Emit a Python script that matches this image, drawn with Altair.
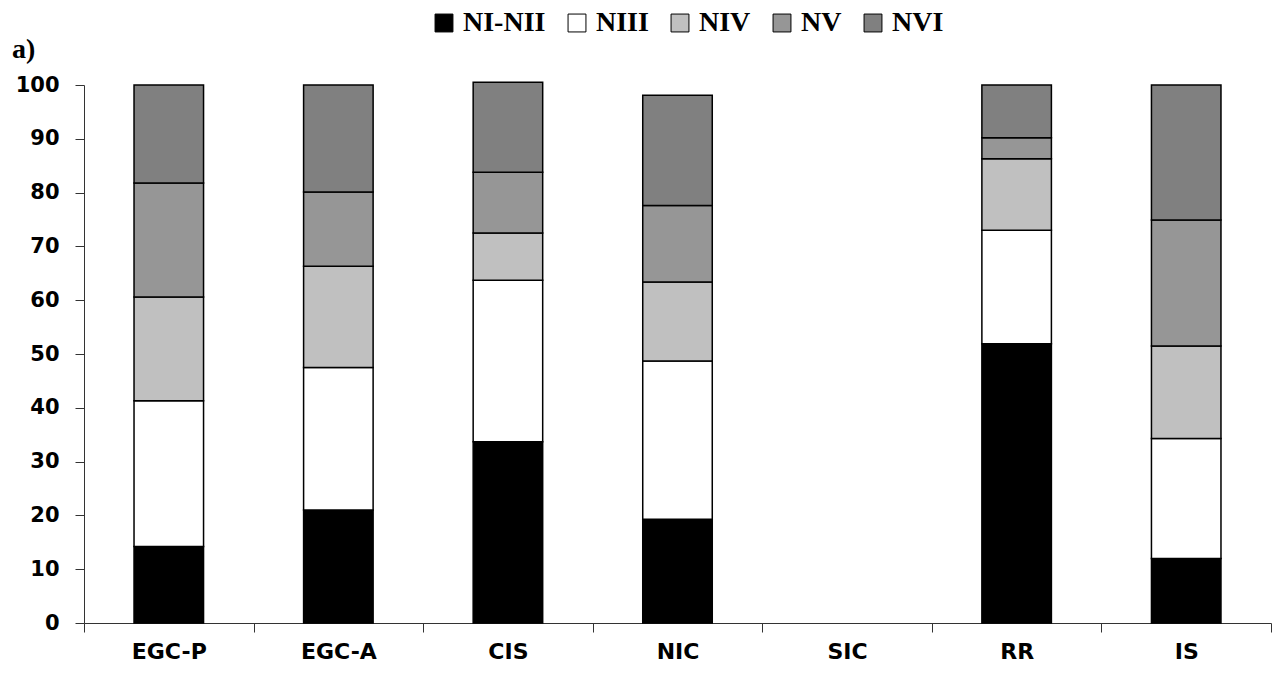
import altair as alt
import pandas as pd

categories = ["EGC-P", "EGC-A", "CIS", "NIC", "SIC", "RR", "IS"]
series = ["NI-NII", "NIII", "NIV", "NV", "NVI"]
colors = ["#000000", "#ffffff", "#c0c0c0", "#969696", "#808080"]

# segment values per category (SIC has no data)
ni_nii = [14.2, 21.0, 33.7, 19.3, None, 51.9, 12.0]
niii   = [27.1, 26.5, 30.0, 29.4, None, 21.1, 22.3]
niv    = [19.3, 18.8,  8.8, 14.7, None, 13.3, 17.2]
nv     = [21.2, 13.8, 11.3, 14.2, None,  3.9, 23.4]
nvi    = [18.2, 19.9, 16.7, 20.5, None,  9.8, 25.1]

panel_label = ["a)"]

values = [ni_nii, niii, niv, nv, nvi]
rows = []
for si, s in enumerate(series):
    for ci, c in enumerate(categories):
        v = values[si][ci]
        if v is not None:
            rows.append({"cat": c, "series": s, "val": v, "ord": si})
df = pd.DataFrame(rows)

bars = alt.Chart(df).mark_bar(stroke="black", strokeWidth=1.5, clip=False,
                              width=alt.RelativeBandSize(0.41)).encode(
    x=alt.X("cat:N", sort=categories,
            scale=alt.Scale(domain=categories, paddingInner=0, paddingOuter=0),
            axis=alt.Axis(title=None, labelAngle=0, labelFont="DejaVu Sans", labelFontWeight="bold",
                          labelFontSize=22, labelColor="black", labelPadding=9,
                          tickBand="extent", tickSize=9, tickColor="#333333", domainColor="#333333")),
    y=alt.Y("val:Q", stack="zero",
            scale=alt.Scale(domain=[0, 100], nice=False),
            axis=alt.Axis(title=None, values=list(range(0, 101, 10)), grid=False,
                          labelFont="DejaVu Sans", labelFontWeight="bold", labelFontSize=21,
                          labelColor="black", labelPadding=16, tickSize=9,
                          tickColor="#333333", domainColor="#333333")),
    color=alt.Color("series:N", sort=series,
                    scale=alt.Scale(domain=series, range=colors),
                    legend=alt.Legend(title=None, orient="none", direction="horizontal",
                                      legendX=346, legendY=-76, symbolType="square",
                                      symbolSize=320, symbolStrokeColor="black",
                                      symbolStrokeWidth=1, labelFont="Liberation Serif",
                                      labelFontWeight="bold", labelFontSize=28,
                                      labelColor="black", labelOffset=5, columnPadding=17,
                                      symbolOpacity=1)),
    order=alt.Order("ord:Q"),
)

label = alt.Chart(pd.DataFrame({"t": panel_label})).mark_text(
    align="left", baseline="alphabetic", font="Liberation Serif", fontWeight="bold",
    fontSize=28, color="black"
).encode(text="t:N", x=alt.value(-72), y=alt.value(-27))

chart = alt.layer(bars, label).properties(
    width=1187, height=538,
    autosize=alt.AutoSizeParams(type="none"),
    padding={"left": 84, "top": 85, "right": 14, "bottom": 60},
).configure_view(stroke=None)

chart.save("out.html", embed_options={"renderer": "svg", "actions": False})
